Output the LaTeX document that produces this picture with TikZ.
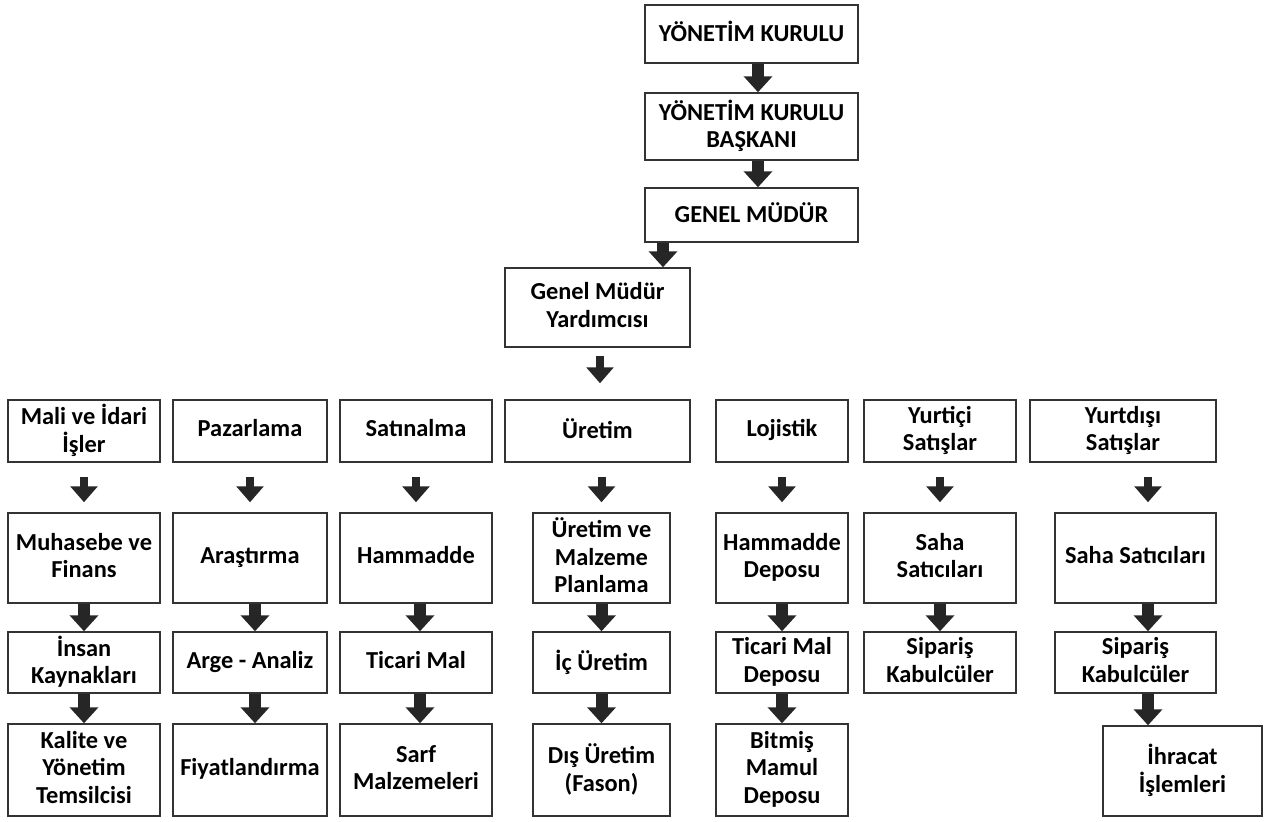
\documentclass[tikz,border=0pt]{standalone}
\usepackage{fontspec}
\setmainfont{Carlito}
\usetikzlibrary{arrows.meta}
\definecolor{boxline}{HTML}{333333}
\definecolor{arrowcol}{HTML}{262626}
\newcommand{\mystrut}{\rule[-4pt]{0pt}{16pt}}
\tikzset{
  box/.style={draw=boxline, line width=1.1pt, inner sep=0pt, align=center,
    font=\bfseries\fontsize{18.3}{20.6}\selectfont, text=black,
    execute at begin node=\mystrut, execute at end node=\mystrut},
  arr/.style={draw=arrowcol, line width=9pt,
    -{Triangle[width=21pt,length=12pt]}},
  arrthin/.style={draw=arrowcol, line width=6pt,
    -{Triangle[width=20pt,length=12pt]}},
}
\begin{document}
\begin{tikzpicture}[x=0.75pt,y=-0.75pt]
\useasboundingbox (0,0) rectangle (1276,821);
% top chain
\node[box, minimum width=213*0.75pt, minimum height=58*0.75pt] (ynk) at (751.5,34) {YÖNETİM KURULU};
\node[box, minimum width=213*0.75pt, minimum height=67*0.75pt] (ynkb) at (751.5,126.5) {YÖNETİM KURULU\\BAŞKANI};
\node[box, minimum width=213*0.75pt, minimum height=54*0.75pt] (gm) at (751.5,215) {GENEL MÜDÜR};
\node[box, minimum width=185*0.75pt, minimum height=79*0.75pt] (gmy) at (597.5,307.5) {Genel Müdür\\Yardımcısı};
% row 1
\node[box, minimum width=152*0.75pt, minimum height=62*0.75pt] (r1a) at (84,431) {Mali ve İdari\\İşler};
\node[box, minimum width=154*0.75pt, minimum height=62*0.75pt] (r1b) at (250,431) {Pazarlama};
\node[box, minimum width=152*0.75pt, minimum height=62*0.75pt] (r1c) at (416,431) {Satınalma};
\node[box, minimum width=185*0.75pt, minimum height=62*0.75pt] (r1d) at (597.5,431) {Üretim};
\node[box, minimum width=132*0.75pt, minimum height=62*0.75pt] (r1e) at (782,431) {Lojistik};
\node[box, minimum width=152*0.75pt, minimum height=62*0.75pt] (r1f) at (940,431) {Yurtiçi\\Satışlar};
\node[box, minimum width=186*0.75pt, minimum height=62*0.75pt] (r1g) at (1123,431) {Yurtdışı\\Satışlar};
% row 2
\node[box, minimum width=152*0.75pt, minimum height=90*0.75pt] (r2a) at (84,558) {Muhasebe ve\\Finans};
\node[box, minimum width=154*0.75pt, minimum height=90*0.75pt] (r2b) at (250,558) {Araştırma};
\node[box, minimum width=152*0.75pt, minimum height=90*0.75pt] (r2c) at (416,558) {Hammadde};
\node[box, minimum width=137*0.75pt, minimum height=90*0.75pt] (r2d) at (601.5,558) {Üretim ve\\Malzeme\\Planlama};
\node[box, minimum width=132*0.75pt, minimum height=90*0.75pt] (r2e) at (782,558) {Hammadde\\Deposu};
\node[box, minimum width=152*0.75pt, minimum height=90*0.75pt] (r2f) at (940,558) {Saha\\Satıcıları};
\node[box, minimum width=161*0.75pt, minimum height=90*0.75pt] (r2g) at (1135.5,558) {Saha Satıcıları};
% row 3
\node[box, minimum width=152*0.75pt, minimum height=61*0.75pt] (r3a) at (84,662.5) {İnsan\\Kaynakları};
\node[box, minimum width=154*0.75pt, minimum height=61*0.75pt] (r3b) at (250,662.5) {Arge - Analiz};
\node[box, minimum width=152*0.75pt, minimum height=61*0.75pt] (r3c) at (416,662.5) {Ticari Mal};
\node[box, minimum width=137*0.75pt, minimum height=61*0.75pt] (r3d) at (601.5,662.5) {İç Üretim};
\node[box, minimum width=132*0.75pt, minimum height=61*0.75pt] (r3e) at (782,662.5) {Ticari Mal\\Deposu};
\node[box, minimum width=152*0.75pt, minimum height=61*0.75pt] (r3f) at (940,662.5) {Sipariş\\Kabulcüler};
\node[box, minimum width=161*0.75pt, minimum height=61*0.75pt] (r3g) at (1135.5,662.5) {Sipariş\\Kabulcüler};
% row 4
\node[box, minimum width=152*0.75pt, minimum height=92*0.75pt] (r4a) at (84,770) {Kalite ve\\Yönetim\\Temsilcisi};
\node[box, minimum width=154*0.75pt, minimum height=92*0.75pt] (r4b) at (250,770) {Fiyatlandırma};
\node[box, minimum width=152*0.75pt, minimum height=92*0.75pt] (r4c) at (416,770) {Sarf\\Malzemeleri};
\node[box, minimum width=137*0.75pt, minimum height=92*0.75pt] (r4d) at (601.5,770) {Dış Üretim\\(Fason)};
\node[box, minimum width=132*0.75pt, minimum height=92*0.75pt] (r4e) at (782,770) {Bitmiş\\Mamul\\Deposu};
\node[box, minimum width=159*0.75pt, minimum height=90*0.75pt] (r4g) at (1182.5,771) {İhracat\\İşlemleri};
% arrows top chain
\draw[arr] (ynk.south -| 758,0) -- (ynkb.north -| 758,0);
\draw[arr] (ynkb.south -| 758,0) -- (gm.north -| 758,0);
\draw[arr] (gm.south -| 663,0) -- (gmy.north -| 663,0);
\draw[arrthin, shorten <=6pt, shorten >=12pt] (gmy.south -| 600,0) -- (r1d.north -| 600,0);
% row1 -> row2
\foreach \a/\b in {r1a/r2a, r1b/r2b, r1c/r2c, r1e/r2e, r1f/r2f}
  \draw[arrthin, shorten <=10.5pt, shorten >=7.5pt] (\a.south) -- (\b.north);
\draw[arrthin, shorten <=10.5pt, shorten >=7.5pt] (r1d.south -| r2d.north) -- (r2d.north);
\draw[arrthin, shorten <=10.5pt, shorten >=7.5pt] (r1g.south -| 1148,0) -- (r2g.north -| 1148,0);
% row2 -> row3
\foreach \a/\b in {r2a/r3a, r2e/r3e, r2f/r3f, r2d/r3d}
  \draw[arr] (\a.south) -- (\b.north);
\draw[arr] (r2b.south -| 255,0) -- (r3b.north -| 255,0);
\draw[arr] (r2c.south -| 420,0) -- (r3c.north -| 420,0);
\draw[arr] (r2g.south -| 1148,0) -- (r3g.north -| 1148,0);
% row3 -> row4
\foreach \a/\b in {r3a/r4a, r3e/r4e, r3d/r4d}
  \draw[arr] (\a.south) -- (\b.north);
\draw[arr] (r3b.south -| 255,0) -- (r4b.north -| 255,0);
\draw[arr] (r3c.south -| 420,0) -- (r4c.north -| 420,0);
\draw[arr] (r3g.south -| 1148,0) -- (r4g.north -| 1148,0);
\end{tikzpicture}
\end{document}
